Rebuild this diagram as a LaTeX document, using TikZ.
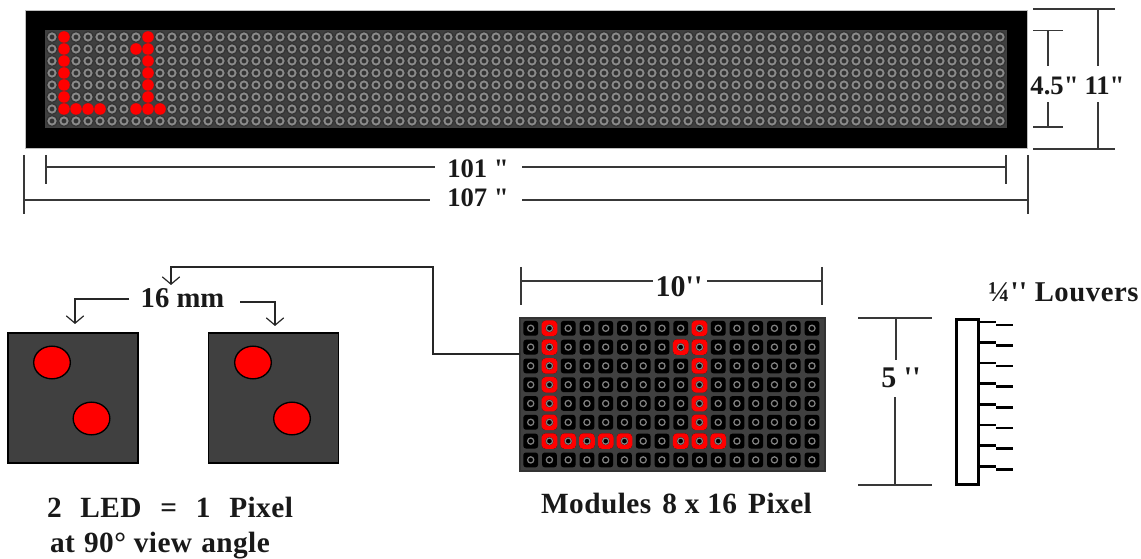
\documentclass[tikz,border=0pt]{standalone}
\usepackage{fontspec}
\setmainfont{Liberation Serif}[Ligatures=TeXOff]
\usetikzlibrary{arrows.meta,shapes.geometric}
\definecolor{panel}{HTML}{404040}
\definecolor{ring}{HTML}{8A8A8A}
\definecolor{hollow}{HTML}{333333}
\definecolor{dim}{HTML}{383838}
\definecolor{ledred}{HTML}{FF0000}
\tikzset{
  dimline/.style={draw=dim,line width=1.25pt},
  lead/.style={draw=black!85,line width=1pt},
  vtip/.style={lead,-{Straight Barb[length=5.5pt,width=13pt,line width=0.9pt]}},
  lbl/.style={font=\bfseries\fontsize{20}{22}\selectfont,inner sep=0pt,text=black!90,anchor=base},
  lblc/.style={font=\bfseries\fontsize{22.5}{24}\selectfont,inner sep=0pt,text=black!90,anchor=base},
  lblb/.style={font=\bfseries\fontsize{22}{24}\selectfont\addfontfeature{LetterSpace=1.5},inner sep=0pt,text=black!90,anchor=base},
  pixbox/.style={draw=black,line width=0.9pt,fill=panel,inner sep=0pt,minimum width=97.5pt,minimum height=97.5pt},
  bigled/.style={draw=black,line width=1pt,fill=ledred,ellipse,minimum width=27.5pt,minimum height=24.5pt,inner sep=0pt},
  louv/.style={draw=black,line width=1.9pt},
}
\begin{document}
\begin{tikzpicture}[x=0.75pt,y=-0.75pt]
\useasboundingbox (0,0) rectangle (1141,559);
% top panel
\node[fill=black,draw=black!25,line width=0.4pt,inner sep=0pt,minimum width=751.5pt,minimum height=103.5pt] (sign) at (526,79) {};
\node[fill=panel,inner sep=0pt,minimum width=721.5pt,minimum height=73.5pt] (face) at (526,79) {};
\foreach \c in {0,...,79}{
  \foreach \r in {0,...,7}{
    \pgfmathsetmacro{\xx}{52+12*\c}
    \pgfmathsetmacro{\yy}{37+12*\r}
    \fill[hollow] (\xx,\yy) circle (5.8);
  }
}
\foreach \c in {0,...,79}{
  \foreach \r in {0,...,7}{
    \pgfmathsetmacro{\xx}{52+12*\c}
    \pgfmathsetmacro{\yy}{37+12*\r}
    \draw[ring,line width=1.4pt] (\xx,\yy) circle (3.6);
  }
}
\foreach \c/\r in {1/0,1/1,1/2,1/3,1/4,1/5,1/6,2/6,3/6,4/6,8/0,8/1,8/2,8/3,8/4,8/5,8/6,7/1,7/6,9/6}{
  \fill[ledred] (52+12*\c,37+12*\r) circle (5.8);
}
% right dimensions
\coordinate (a1) at (1033,9); \coordinate (a2) at (1115,9); \coordinate (a3) at (1098,9);
\coordinate (a4) at (1033,149); \coordinate (a5) at (1115,149); \coordinate (a6) at (1098,149);
\coordinate (b1) at (1033,30.5); \coordinate (b2) at (1063,30.5); \coordinate (b3) at (1048,30.5);
\coordinate (b4) at (1033,127); \coordinate (b5) at (1063,127); \coordinate (b6) at (1048,127);
\node[lbl] (t45) at (1054.5,95) {4.5"};
\node[lbl] (t11) at (1104.5,95) {11"};
\draw[dimline] (a1)--(a2) (a4)--(a5) (b1)--(b2) (b4)--(b5);
\draw[dimline] (a3)--(1098,66) (1098,102.5)--(a6) (b3)--(1048,66) (1048,102.5)--(b6);
% horizontal dimensions
\node[lbl] (t101) at (478,178) {101 "};
\node[lbl] (t107) at (478,206.5) {107 "};
\coordinate (c1) at (46,155); \coordinate (c2) at (46,184); \coordinate (c3) at (1006,155); \coordinate (c4) at (1006,184);
\coordinate (d1) at (24,155); \coordinate (d2) at (24,214); \coordinate (d3) at (1028,155); \coordinate (d4) at (1028,214);
\draw[dimline] (c1)--(c2) (c3)--(c4) (d1)--(d2) (d3)--(d4);
\draw[dimline] (46,167)--(435,167) (522,167)--(1006,167) (24,200)--(430,200) (522,200)--(1028,200);
% pixel boxes
\node[pixbox] (p1) at (73,398) {};
\node[pixbox] (p2) at (273.5,398) {};
\node[bigled] (l1) at (52,362.5) {};
\node[bigled] (l2) at (91.5,418.5) {};
\node[bigled] (l3) at (253,362.5) {};
\node[bigled] (l4) at (292,418.5) {};
\node[font=\bfseries\fontsize{21.5}{24}\selectfont,inner sep=0pt,text=black!90,anchor=base] (t16) at (182.5,308) {16 mm};
\coordinate (h0) at (129,299); \coordinate (h1) at (75,299); \coordinate (h2) at (75,324);
\coordinate (h5) at (240,302); \coordinate (h3) at (275,302); \coordinate (h4) at (275,326);
\draw[vtip] (h0)--(h1)--(h2);
\draw[vtip] (h5)--(h3)--(h4);
% module
\node[draw=black!80,line width=0.9pt,fill=panel,inner sep=0pt,minimum width=228.75pt,minimum height=114.75pt] (module) at (672.5,394.5) {};
\foreach \c in {0,...,15}{
  \foreach \r in {0,...,7}{
    \pgfmathsetmacro{\xx}{530.7+18.75*\c}
    \pgfmathsetmacro{\yy}{328.3+18.8*\r}
    \fill[black,rounded corners=2pt] (\xx-7.4,\yy-7.4) rectangle (\xx+7.4,\yy+7.4);
  }
}
\foreach \c/\r in {1/0,1/1,1/2,1/3,1/4,1/5,1/6,2/6,3/6,4/6,5/6,9/0,9/1,9/2,9/3,9/4,9/5,9/6,8/1,8/6,10/6}{
  \pgfmathsetmacro{\xx}{530.7+18.75*\c}
  \pgfmathsetmacro{\yy}{328.3+18.8*\r}
  \fill[ledred,rounded corners=3pt] (\xx-7.8,\yy-7.8) rectangle (\xx+7.8,\yy+7.8);
  \fill[black] (\xx,\yy) circle (3.9);
}
\foreach \c in {0,...,15}{
  \foreach \r in {0,...,7}{
    \pgfmathsetmacro{\xx}{530.7+18.75*\c}
    \pgfmathsetmacro{\yy}{328.3+18.8*\r}
    \draw[black!50,line width=0.95pt] (\xx,\yy) circle (3.1);
  }
}
% connector module to pixel
\coordinate (m1) at (520,354); \coordinate (m2) at (433,354); \coordinate (m3) at (433,267); \coordinate (m4) at (171,267); \coordinate (m5) at (171,285);
\draw[vtip] (m1)--(m2)--(m3)--(m4)--(m5);
% 10 inch
\node[lblc] (t10) at (679,297) {10''};
\coordinate (e1) at (521,267); \coordinate (e2) at (521,305); \coordinate (e3) at (822,267); \coordinate (e4) at (822,305);
\draw[dimline] (e1)--(e2) (e3)--(e4) (521,281)--(653,281) (707,281)--(822,281);
% 5 inch
\node[lblc] (t5) at (901,387) {5 ''};
\coordinate (f1) at (858,318); \coordinate (f2) at (932,318); \coordinate (f3) at (858,485); \coordinate (f4) at (932,485);
\draw[dimline] (f1)--(f2) (f3)--(f4) (896,318)--(896,360) (895,397)--(895,485);
% louvers
\node[font=\bfseries\fontsize{21.5}{24}\selectfont\addfontfeature{LetterSpace=2},inner sep=0pt,text=black!90,anchor=base] (tl) at (1063.5,301) {¼'' Louvers};
\node[draw=black,line width=2.2pt,fill=white,inner sep=0pt,minimum width=16.5pt,minimum height=123.5pt] (lv) at (967.5,402) {};
\foreach \y in {322,342.5,363,383.7,404.3,425,445.6,466.3}{
  \draw[louv] (979,\y)--(996,\y);
  \draw[louv] (996,\y+3)--(1013,\y+3);
}
% captions
\node[lblb] (c1t) at (170,517) {2\ \ \hskip2.4pt LED\ \ \hskip2.4pt =\ \ \hskip2.4pt 1\ \ \hskip2.4pt Pixel};
\node[lblb] (c2t) at (160,552) {at\ \hskip1pt 90° view\ \hskip1pt angle};
\node[lblb] (c3t) at (676.5,513) {Modules\ \hskip2.5pt 8 x 16\ \hskip2.5pt Pixel};
\end{tikzpicture}
\end{document}
